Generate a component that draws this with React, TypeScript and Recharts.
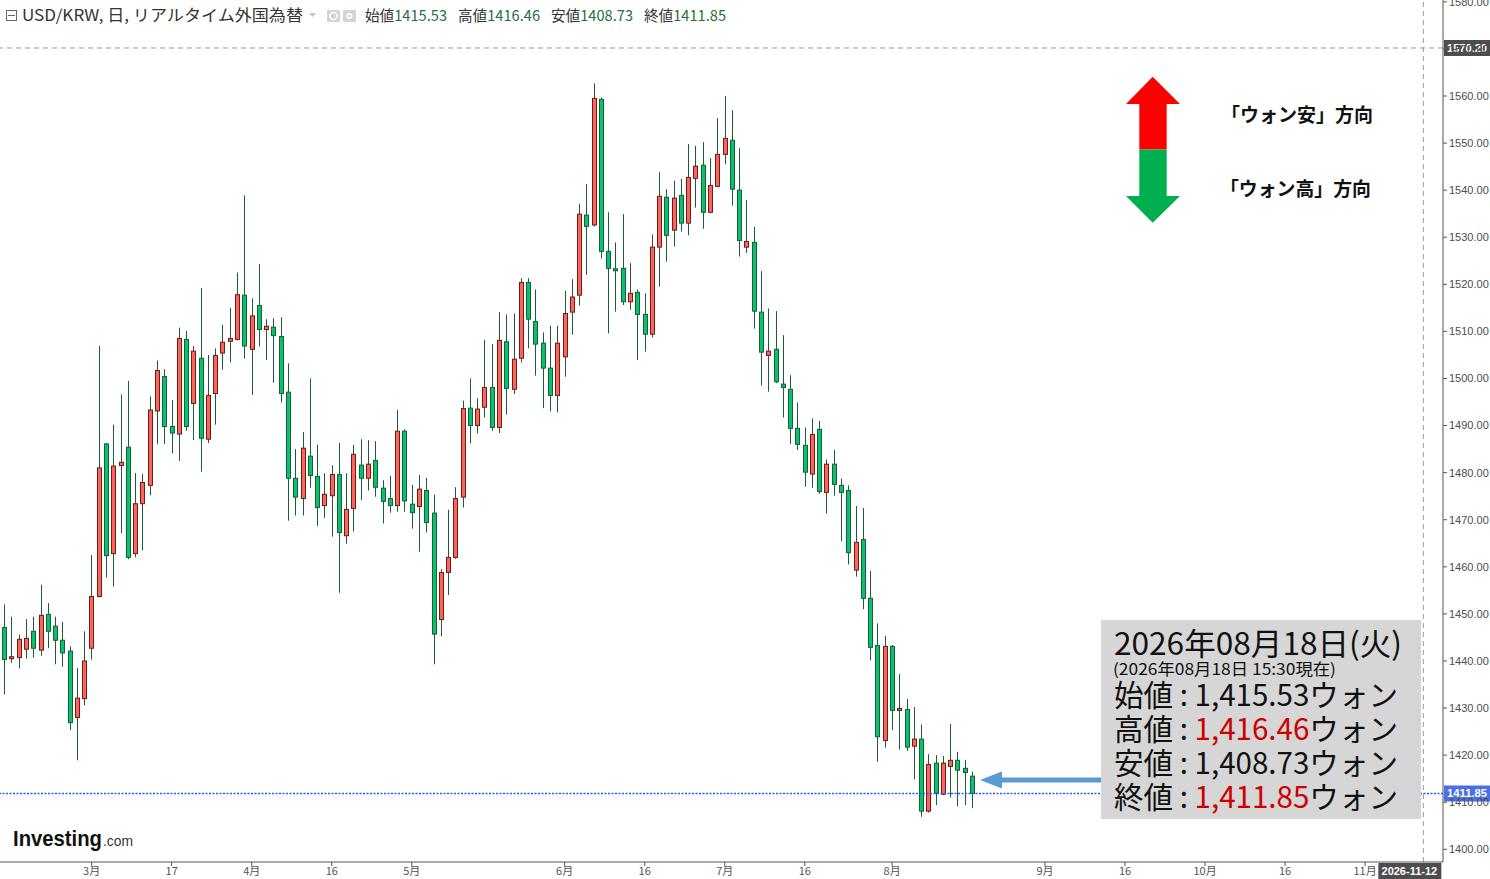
import React from 'react';
import { ComposedChart, Bar, XAxis, YAxis, ReferenceLine } from 'recharts';

// Trading-day index 0 = 2026-03-02; first candle is 12 trading days earlier (2026-02-12)
const FIRST_DAY = -12;

const opens = [
  1447.1, 1440.5, 1440.7, 1442.5, 1446.3, 1442.3, 1449.9, 1447.4, 1444.4, 1442.1, 1428.0, 1432.0,
  1442.7, 1453.7, 1486.1, 1462.8, 1481.5, 1485.4, 1462.8, 1473.4, 1477.3, 1493.1,
  1500.4, 1489.8, 1488.2, 1508.3, 1494.7, 1504.3, 1487.1, 1496.8, 1505.4, 1507.9,
  1508.3, 1517.7, 1506.2, 1515.5, 1510.4, 1510.9, 1508.9, 1497.1, 1478.8, 1474.5,
  1483.5, 1479.2, 1473.0, 1475.1, 1479.6, 1466.6, 1472.4, 1481.6, 1478.8, 1482.6,
  1476.7, 1474.5, 1473.0, 1488.8, 1473.3, 1472.8, 1476.2, 1471.4, 1448.8, 1458.8,
  1462.0, 1474.8, 1493.7, 1490.0, 1493.9, 1498.1, 1489.6,
  1507.8, 1497.7, 1504.3, 1520.4, 1512.1, 1507.5, 1502.2, 1496.4, 1504.6, 1514.1,
  1517.7, 1534.7, 1532.6, 1559.3, 1527.0, 1523.3, 1523.4, 1516.3, 1518.3, 1513.6,
  1509.4, 1527.9, 1538.5, 1531.5, 1538.9, 1533.0, 1542.5, 1545.3, 1535.3, 1540.8,
  1547.6, 1550.6, 1540.0, 1527.9, 1528.9, 1514.1, 1504.9, 1506.2, 1498.8, 1497.7,
  1489.4, 1485.8, 1479.7, 1489.2, 1475.8, 1481.8, 1477.3, 1476.2, 1459.3, 1465.8,
  1453.3, 1443.3, 1423.1, 1443.1, 1429.5, 1429.7, 1421.9, 1423.4, 1408.1, 1418.3,
  1411.7, 1417.6, 1418.9, 1417.2, 1415.53,
];

const highs = [
  1452.0, 1449.4, 1445.6, 1448.9, 1449.4, 1456.2, 1452.3, 1449.4, 1448.3, 1443.1, 1438.5, 1446.3,
  1462.5, 1506.9, 1486.3, 1490.2, 1496.6, 1499.5, 1479.9, 1479.7, 1496.2, 1503.8,
  1502.0, 1495.4, 1510.8, 1510.1, 1506.9, 1519.2, 1505.0, 1506.4, 1511.4, 1515.0,
  1522.5, 1538.9, 1517.0, 1524.3, 1512.6, 1512.8, 1513.0, 1503.2, 1485.0, 1488.6,
  1500.0, 1485.9, 1479.9, 1481.6, 1486.3, 1479.9, 1485.9, 1487.1, 1486.9, 1486.7,
  1478.4, 1479.3, 1493.3, 1489.2, 1477.4, 1479.5, 1478.9, 1475.3, 1459.5, 1472.1,
  1476.9, 1495.3, 1500.0, 1495.8, 1508.2, 1507.3, 1514.1,
  1513.6, 1513.8, 1521.3, 1521.3, 1518.9, 1509.8, 1511.2, 1511.2, 1518.6, 1521.1,
  1537.1, 1541.3, 1562.7, 1559.7, 1535.3, 1528.9, 1534.9, 1524.5, 1518.9, 1518.1,
  1530.6, 1543.8, 1540.2, 1542.0, 1542.4, 1549.8, 1549.4, 1550.2, 1546.8, 1555.3,
  1560.0, 1557.0, 1548.9, 1537.9, 1532.2, 1522.8, 1514.9, 1514.3, 1509.2, 1500.7,
  1494.9, 1489.6, 1491.5, 1491.0, 1482.8, 1484.8, 1478.7, 1477.3, 1472.9, 1472.5,
  1459.1, 1448.0, 1445.3, 1443.4, 1437.2, 1431.9, 1430.2, 1426.5, 1420.2, 1420.0,
  1419.8, 1426.6, 1420.7, 1419.0, 1416.46,
];

const lows = [
  1432.9, 1439.6, 1438.4, 1440.5, 1440.7, 1441.1, 1442.7, 1439.3, 1438.8, 1425.3, 1418.9, 1430.6,
  1440.3, 1453.5, 1457.7, 1455.8, 1467.1, 1461.6, 1462.0, 1463.5, 1475.2, 1486.1,
  1486.1, 1484.1, 1482.5, 1488.9, 1486.9, 1480.2, 1486.3, 1490.2, 1501.9, 1503.4,
  1508.1, 1504.2, 1496.5, 1506.8, 1503.9, 1499.1, 1494.9, 1469.8, 1470.9, 1470.9,
  1476.8, 1468.7, 1470.4, 1466.4, 1454.5, 1464.9, 1467.5, 1474.2, 1476.2, 1474.9,
  1469.2, 1471.5, 1471.7, 1471.7, 1468.1, 1463.2, 1467.3, 1439.3, 1445.2, 1454.0,
  1461.7, 1472.6, 1486.2, 1488.3, 1491.7, 1488.9, 1488.4,
  1492.3, 1496.7, 1503.4, 1506.4, 1500.6, 1493.7, 1493.0, 1492.8, 1500.4, 1509.3,
  1515.5, 1522.0, 1532.3, 1525.5, 1509.6, 1514.2, 1515.6, 1514.6, 1503.9, 1505.7,
  1508.7, 1519.5, 1524.8, 1528.0, 1531.2, 1530.4, 1536.3, 1531.8, 1535.1, 1540.6,
  1545.5, 1536.7, 1525.9, 1526.7, 1510.6, 1498.5, 1497.2, 1499.0, 1491.7, 1486.1,
  1484.8, 1477.0, 1476.8, 1475.5, 1471.3, 1475.1, 1465.4, 1460.5, 1457.9, 1451.0,
  1440.1, 1418.6, 1421.6, 1425.3, 1421.2, 1420.9, 1414.9, 1406.9, 1407.8, 1409.4,
  1411.5, 1411.0, 1409.1, 1409.4, 1408.73,
];

const closes = [
  1440.3, 1440.9, 1444.6, 1444.8, 1442.7, 1449.7, 1446.3, 1444.4, 1441.7, 1426.9, 1432.1, 1440.0,
  1453.7, 1481.0, 1462.4, 1481.4, 1482.2, 1462.0, 1473.4, 1477.9, 1493.3, 1501.7,
  1489.8, 1488.4, 1508.5, 1489.8, 1505.8, 1487.3, 1496.4, 1504.9, 1507.7, 1508.5,
  1517.8, 1506.9, 1513.3, 1510.4, 1511.1, 1509.1, 1496.8, 1478.8, 1474.8, 1485.2,
  1479.4, 1472.6, 1475.4, 1479.6, 1467.3, 1472.2, 1483.9, 1478.8, 1481.8, 1476.9,
  1473.9, 1473.0, 1488.8, 1474.0, 1471.5, 1476.5, 1469.4, 1445.7, 1458.8, 1462.0,
  1474.5, 1493.6, 1490.0, 1493.5, 1498.1, 1489.6, 1508.1,
  1497.9, 1504.1, 1520.4, 1512.6, 1507.3, 1502.2, 1496.4, 1507.5, 1513.8, 1517.3,
  1534.9, 1532.3, 1559.5, 1527.0, 1523.4, 1523.1, 1516.3, 1518.1, 1513.6, 1509.4,
  1527.9, 1538.7, 1530.4, 1538.3, 1533.0, 1542.7, 1545.1, 1535.3, 1541.0, 1547.6,
  1551.0, 1540.2, 1529.3, 1529.1, 1514.3, 1505.6, 1505.8, 1499.3, 1498.1, 1489.4,
  1486.0, 1480.1, 1488.1, 1476.0, 1481.8, 1477.5, 1475.8, 1463.0, 1465.2, 1453.3,
  1442.9, 1423.9, 1443.1, 1429.5, 1429.9, 1421.7, 1423.4, 1408.1, 1418.0, 1411.9,
  1418.3, 1418.9, 1416.8, 1416.3, 1411.85,
];

// x-axis ticks (trading-day index) and their labels
const xTickDays = [0, 11, 22, 33, 44, 65, 76, 87, 98, 110, 131, 142, 153, 164, 175];
const xTickLabels = ['3月', '17', '4月', '16', '5月', '6月', '16', '7月', '16', '8月', '9月', '16', '10月', '16', '11月'];

const yTicks = [1400, 1410, 1420, 1430, 1440, 1450, 1460, 1470, 1480, 1490, 1500, 1510, 1520, 1530, 1540, 1550, 1560, 1570, 1580];

const X_DOMAIN = [-12.59, 185.7];
const Y_DOMAIN = [1397.3, 1580.39];

const lastPrice = 1411.85;
const markerPrice = 1570.2;
const cursorDay = 183;
const cursorLabel = '2026-11-12';

const data = opens.map((o, i) => ({
  day: FIRST_DAY + i,
  open: o,
  high: highs[i],
  low: lows[i],
  close: closes[i],
  range: [lows[i], highs[i]],
}));

const UP_FILL = '#fb655a';
const UP_STROKE = '#6e1c16';
const DOWN_FILL = '#05c46c';
const DOWN_STROKE = '#1d5b3a';
const WICK = '#1d5b3a';

const Candle = (props: any) => {
  const { x, y, width, height, payload } = props;
  if (!payload || x == null || y == null) return null;
  const { open, close, high, low } = payload;
  const top = Math.min(y, y + height);
  const h = Math.abs(height);
  const ppu = h / (high - low || 1);
  const yOf = (v: number) => top + (high - v) * ppu;
  const c = Math.round(x + width / 2);
  const up = close >= open;
  const bTop = yOf(Math.max(open, close));
  let bBot = yOf(Math.min(open, close));
  if (bBot - bTop < 2) bBot = bTop + 2;
  return (
    <g>
      <line x1={c + 0.5} x2={c + 0.5} y1={top} y2={top + h} stroke={WICK} strokeWidth={1} />
      <rect
        x={c - 1.5}
        y={bTop}
        width={4}
        height={bBot - bTop}
        fill={up ? UP_FILL : DOWN_FILL}
        stroke={up ? UP_STROKE : DOWN_STROKE}
        strokeWidth={1}
      />
    </g>
  );
};

const AX = "'Liberation Sans', Arial, sans-serif";
const JP = "'Noto Sans CJK JP', 'Noto Sans', sans-serif";

const priceTag = (text: string, bg: string) => (props: any) => {
  const vb = props.viewBox || {};
  const x = (vb.x || 0) + (vb.width || 0) + 1;
  const y = vb.y || 0;
  return (
    <g>
      <rect x={x} y={y - 8} width={46} height={16} fill={bg} />
      <text x={x + 3} y={y + 4} fill="#fff" fontSize={11} fontWeight="bold" fontFamily={AX} textLength={40} lengthAdjust="spacingAndGlyphs">
        {text}
      </text>
    </g>
  );
};

const dateTag = (props: any) => {
  const vb = props.viewBox || {};
  const x = vb.x || 0;
  const bottom = (vb.y || 0) + (vb.height || 0);
  return (
    <g>
      <rect x={x - 45} y={bottom + 1} width={63} height={17} fill="#4d4d4d" />
      <text x={x - 14} y={bottom + 13} textAnchor="middle" fill="#fff" fontSize={11} fontWeight="bold" fontFamily={AX}>
        {cursorLabel}
      </text>
    </g>
  );
};

const headerStats = [
  ['始値', '1415.53', 365],
  ['高値', '1416.46', 458],
  ['安値', '1408.73', 551],
  ['終値', '1411.85', 644],
];

const boxRows = [
  ['始値', '1,415.53', 706, '#111'],
  ['高値', '1,416.46', 740, '#cc0000'],
  ['安値', '1,408.73', 774, '#111'],
  ['終値', '1,411.85', 808, '#cc0000'],
];

const Overlay = () => (
  <svg width={1490} height={879} style={{ position: 'absolute', left: 0, top: 0, pointerEvents: 'none' }}>
    {/* header */}
    <rect x={6.5} y={10.5} width={10} height={10} fill="none" stroke="#666" strokeWidth={1} />
    <line x1={8} x2={15} y1={15.5} y2={15.5} stroke="#666" strokeWidth={1} />
    <text x={22} y={21} fontSize={16} fill="#333" fontFamily={JP} textLength={281} lengthAdjust="spacingAndGlyphs">
      USD/KRW, 日, リアルタイム外国為替
    </text>
    <path d="M309 13 L316 13 L312.5 17 Z" fill="#c4c4c4" />
    <rect x={327} y={10} width={13} height={12} rx={1} fill="#d4d4d4" />
    <circle cx={333.5} cy={16} r={3.5} fill="none" stroke="#fff" strokeWidth={1.5} />
    <rect x={343} y={10} width={13} height={12} rx={1} fill="#d4d4d4" />
    <circle cx={349.5} cy={16} r={3} fill="#fff" />
    <circle cx={349.5} cy={16} r={1.3} fill="#d4d4d4" />
    {headerStats.map(([l, v, x]) => (
      <text key={l as string} x={x as number} y={21} fontSize={15} fontFamily={JP} textLength={82} lengthAdjust="spacingAndGlyphs">
        <tspan fill="#333">{l}</tspan>
        <tspan fill="#25703f">{v}</tspan>
      </text>
    ))}

    {/* direction arrows */}
    <polygon points="1152.7,76.7 1180,104 1166.7,104 1166.7,149.5 1139.3,149.5 1139.3,104 1126,104" fill="#ff0000" />
    <polygon points="1139.3,149.5 1166.7,149.5 1166.7,196 1180,196 1152.7,222.7 1126,196 1139.3,196" fill="#00b050" />
    <text x={1221} y={121.5} fontSize={19} fontWeight="bold" fill="#111" fontFamily={JP} textLength={152} lengthAdjust="spacingAndGlyphs">
      「ウォン安」方向
    </text>
    <text x={1220} y={195.5} fontSize={19} fontWeight="bold" fill="#111" fontFamily={JP} textLength={151} lengthAdjust="spacingAndGlyphs">
      「ウォン高」方向
    </text>

    {/* info box */}
    <rect x={1101} y={620} width={320} height={199} fill="#d6d6d6" />
    <text x={1114} y={655} fontSize={31} fill="#111" fontFamily={JP} textLength={288} lengthAdjust="spacingAndGlyphs">
      2026年08月18日(火)
    </text>
    <text x={1113} y={675} fontSize={16} fill="#111" fontFamily={JP} textLength={223} lengthAdjust="spacingAndGlyphs">
      (2026年08月18日 15:30現在)
    </text>
    {boxRows.map(([l, v, y, col]) => (
      <text key={l as string} x={1114} y={y as number} fontSize={30} fill="#111" fontFamily={JP} textLength={284} lengthAdjust="spacingAndGlyphs">
        <tspan>{l} : </tspan>
        <tspan fill={col as string}>{v}</tspan>
        <tspan>ウォン</tspan>
      </text>
    ))}

    {/* pointer arrow */}
    <line x1={1000} x2={1101} y1={780} y2={780} stroke="#5b9bd5" strokeWidth={5} />
    <polygon points="980,780 1002,771.5 1002,788.5" fill="#5b9bd5" />

    {/* logo */}
    <text x={13} y={846} fontSize={22} fontWeight="bold" fill="#111" fontFamily={AX} textLength={89} lengthAdjust="spacingAndGlyphs">
      Investing
    </text>
    <text x={103} y={846} fontSize={15} fill="#333" fontFamily={AX} textLength={30} lengthAdjust="spacingAndGlyphs">
      .com
    </text>
  </svg>
);

export default function App() {
  return (
    <div style={{ position: 'absolute', left: 0, top: 0, width: 1490, height: 879, background: '#fff', overflow: 'hidden' }}>
      <ComposedChart width={1490} height={879} data={data} margin={{ top: 0, right: 0, bottom: 0, left: 0 }}>
        <XAxis
          dataKey="day"
          type="number"
          domain={X_DOMAIN}
          allowDataOverflow
          ticks={xTickDays}
          interval={0}
          tickFormatter={(v: number) => xTickLabels[xTickDays.indexOf(v)] ?? ''}
          height={17}
          tickSize={4}
          tickMargin={1}
          axisLine={{ stroke: '#555' }}
          tickLine={{ stroke: '#555' }}
          tick={{ fontSize: 11, fill: '#555', fontFamily: JP }}
        />
        <YAxis
          orientation="right"
          type="number"
          domain={Y_DOMAIN}
          allowDataOverflow
          ticks={yTicks}
          interval={0}
          tickFormatter={(v: number) => v.toFixed(2)}
          width={47}
          tickSize={4}
          tickMargin={2}
          axisLine={{ stroke: '#555' }}
          tickLine={{ stroke: '#555' }}
          tick={{ fontSize: 11, fill: '#4d4d4d', fontFamily: AX }}
        />
        <ReferenceLine x={cursorDay} stroke="#9a9a9a" strokeDasharray="5 4" label={dateTag} />
        <ReferenceLine y={markerPrice} stroke="#9a9a9a" strokeDasharray="5 4" label={priceTag('1570.20', '#4d4d4d')} />
        <ReferenceLine y={lastPrice} stroke="#1e5bff" strokeOpacity={1} strokeWidth={1.3} strokeDasharray="2 1.5" label={priceTag('1411.85', '#4a70e2')} />
        <Bar dataKey="range" barSize={5} isAnimationActive={false} shape={(p: any) => <Candle {...p} />} />
      </ComposedChart>
      <Overlay />
    </div>
  );
}
